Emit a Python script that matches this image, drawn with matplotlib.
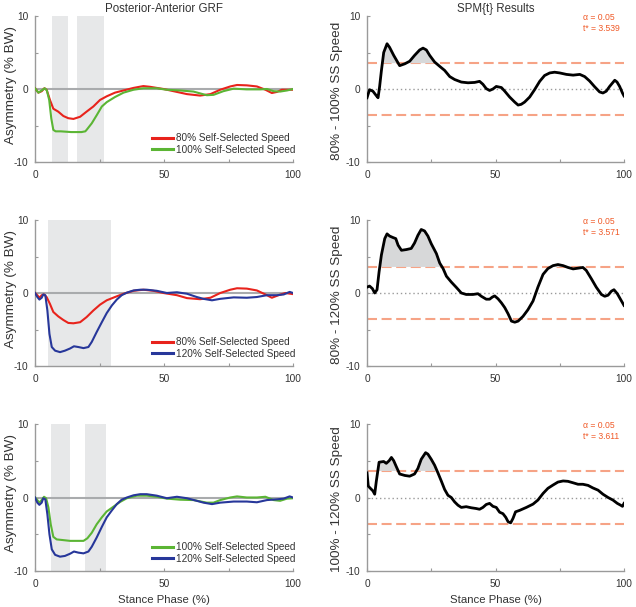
import numpy as np
import matplotlib
matplotlib.use("Agg")
import matplotlib.pyplot as plt

plt.rcParams['font.family'] = ['Liberation Sans', 'DejaVu Sans']
plt.rcParams['axes.unicode_minus'] = False

# ---------------- data ----------------
# Panel 1: 80% vs 100%
p1_x80 = [0, 1.3, 2.6, 3.6, 4.5, 5.8, 7.1, 9, 11, 12.9, 14.9, 17.5, 20, 22.6, 25.2, 27.8, 31, 34.3, 38.2, 42, 44.6,
          49.8, 53.7, 58.9, 64, 68, 71.8, 75.7, 78.3, 82.1, 86, 89.3, 91.8, 93.8, 95.7, 100]
p1_y80 = [0.1, -0.5, -0.3, 0.1, -0.1, -1.5, -2.7, -3.1, -3.7, -4.0, -4.1, -3.8, -3.1, -2.4, -1.5, -1.0, -0.5, -0.2, 0.15, 0.4, 0.3,
          0.0, -0.3, -0.7, -0.9, -0.7, -0.1, 0.35, 0.55, 0.5, 0.35, -0.1, -0.55, -0.4, -0.1, -0.1]
p1_x100 = [0, 1.3, 2.6, 3.8, 4.6, 5.5, 6.3, 7.1, 8, 10, 14, 18, 19.5, 20, 22, 23.9, 25.9, 27.8, 31, 34.3, 38.2, 42, 47.2,
           51, 56.3, 61.4, 66.6, 69.2, 73, 77, 82, 87.3, 89.9, 92.5, 95, 97.7, 100]
p1_y100 = [0.1, -0.5, -0.2, 0.1, -0.2, -1.5, -4.0, -5.6, -5.8, -5.8, -5.9, -5.9, -5.8, -5.6, -4.7, -3.6, -2.4, -1.8, -1.1, -0.5, -0.1, 0.1, 0.1,
           -0.1, -0.2, -0.35, -0.85, -0.8, -0.3, 0.05, -0.05, -0.05, 0.0, -0.3, -0.35, -0.2, 0.0]
p1_spans = [(6.7, 12.9), (16.2, 26.9)]

# Panel 2: SPM 80% - 100%
p2_x = [0, 1, 2.3, 3.6, 4.3, 4.9, 5.6, 6.5, 7.8, 8.8, 10.4, 12.7, 14.7, 16.6, 18.5, 20.5, 21.8, 23.1, 24.4, 26.3, 28.3,
        30.2, 32.2, 34.1, 36.7, 39.3, 41.9, 43.8, 45.1, 46.4, 47.7, 49, 50.3, 52.3, 53.6, 55.5, 57.5, 58.8, 60, 61.3,
        63.3, 65.2, 67.2, 69.1, 71.1, 73, 75, 77.6, 80.2, 82.8, 84.7, 86.6, 88.6, 90.5, 91.8, 93.1, 94.4, 96.4, 97.3,
        98.3, 99.4, 100]
p2_y = [-1.2, -0.1, -0.3, -0.9, -1.2, 0.3, 2.5, 5.0, 6.2, 5.7, 4.6, 3.2, 3.45, 3.8, 4.6, 5.35, 5.6, 5.35, 4.6, 3.7, 3.1,
        2.55, 1.7, 1.3, 0.95, 0.85, 0.9, 1.05, 0.65, 0.05, -0.2, 0.0, 0.35, 0.2, -0.3, -1.1, -1.8, -2.2, -2.1, -1.8,
        -1.1, -0.1, 1.05, 1.85, 2.2, 2.3, 2.2, 2.0, 1.9, 2.0, 1.7, 1.1, 0.3, -0.4, -0.55, -0.3, 0.35, 1.2, 0.95,
        0.35, -0.55, -0.95]
p2_tstar = 3.539

# Panel 3: 80% vs 120%
p3_x80 = [0, 0.9, 1.7, 2.6, 3.5, 4.5, 5.8, 7.1, 9, 11, 12.9, 14.9, 17.5, 20, 22.6, 25.2, 27.8, 31, 34.3, 38.2, 42, 45.9,
          49.8, 55, 58.9, 64, 68, 71.8, 75.7, 78.3, 82.1, 86, 89.3, 91.8, 94.4, 97, 100]
p3_y80 = [0.0, -0.3, -0.65, -0.3, -0.2, -0.55, -1.5, -2.6, -3.2, -3.7, -4.1, -4.15, -4.0, -3.3, -2.4, -1.6, -1.0, -0.55, -0.1, 0.3, 0.45, 0.3,
          0.0, -0.3, -0.7, -0.85, -0.65, 0.0, 0.45, 0.65, 0.6, 0.35, -0.2, -0.65, -0.3, 0.0, -0.15]
p3_x120 = [0, 0.9, 1.7, 2.6, 3.2, 4, 4.8, 5.6, 6.5, 7.8, 9.7, 11.6, 13.6, 15.1, 16.8, 18.8, 20.7, 22, 23.9, 25.9, 27.8,
           29.8, 31.7, 33.6, 35.6, 38.2, 40.8, 43.3, 47.2, 51.1, 55, 58.9, 62.7, 65.3, 68.6, 71.8, 77, 82.1, 86, 89.9,
           93.8, 96.4, 98.7, 100]
p3_y120 = [0.0, -0.55, -0.9, -0.65, -0.2, -0.3, -2.4, -5.6, -7.4, -7.9, -8.1, -7.9, -7.6, -7.3, -7.4, -7.55, -7.4, -6.7, -5.35, -4.0, -2.75,
           -1.7, -0.9, -0.3, 0.05, 0.35, 0.45, 0.45, 0.3, 0.0, 0.1, -0.1, -0.55, -0.8, -1.0, -0.8, -0.6, -0.65, -0.55, -0.3,
           -0.3, -0.2, 0.15, 0.0]
p3_spans = [(5.2, 29.5)]

# Panel 4: SPM 80% - 120%
p4_x = [0, 1, 2.1, 3, 3.9, 4.7, 5.6, 6.9, 7.8, 8.8, 10.1, 11.2, 12.1, 13.4, 15.3, 17.2, 18.5, 19.8, 21.1, 22.4, 23.7,
        25, 27, 28.3, 29.6, 30.9, 32.8, 34.8, 36.7, 38.6, 41.2, 43.2, 44.5, 46.4, 47.7, 48.8, 49.7, 51, 52.3, 53.6,
        54.9, 56.2, 57.5, 58.8, 60.7, 62.6, 64.6, 66.5, 68.5, 70.4, 72.4, 74.3, 76.3, 78.2, 80.2, 82.1, 84, 85.3,
        87.3, 89.2, 91.2, 92.5, 93.8, 95.1, 96.1, 97.4, 98.7, 100]
p4_y = [0.8, 0.95, 0.6, 0.0, 0.45, 2.9, 5.2, 7.45, 8.1, 7.8, 7.6, 7.45, 6.55, 5.85, 5.95, 6.1, 6.85, 7.9, 8.7, 8.5, 7.8,
        6.75, 5.4, 4.1, 3.35, 2.3, 1.5, 0.75, 0.0, -0.2, -0.2, -0.1, -0.45, -0.85, -0.85, -0.55, -0.4, -0.8, -1.35, -2.0,
        -2.85, -3.85, -4.0, -3.85, -3.2, -2.3, -1.1, 0.8, 2.55, 3.35, 3.75, 3.9, 3.75, 3.5, 3.3, 3.4, 3.5, 3.1,
        1.95, 0.8, -0.2, -0.45, -0.3, 0.25, 0.45, -0.1, -0.9, -1.7]
p4_tstar = 3.571

# Panel 5: 100% vs 120%
p5_x100 = [0, 0.9, 1.7, 2.6, 3.5, 4.3, 5.2, 6.1, 7.1, 8.4, 11, 13.6, 16.2, 18.8, 20.3, 22, 23.9, 25.9, 27.8, 30.4, 33,
           35.6, 39.5, 43.3, 47.2, 51.1, 56.3, 61.4, 66.6, 69.2, 71.8, 75.7, 78.3, 82.1, 86, 89.3, 92.5, 95, 97.7, 100]
p5_y100 = [0.0, -0.35, -0.7, -0.35, 0.1, -0.1, -1.35, -3.65, -5.35, -5.7, -5.8, -5.9, -5.9, -5.9, -5.55, -4.8, -3.65, -2.7, -1.9, -1.25, -0.6,
           -0.1, 0.25, 0.25, 0.1, -0.15, -0.3, -0.35, -0.7, -0.7, -0.35, 0.0, 0.15, 0.0, 0.0, 0.1, -0.35, -0.45, -0.15, -0.1]
p5_x120 = [0, 0.9, 1.7, 2.6, 3.2, 4, 4.8, 5.6, 6.5, 7.8, 9.7, 11.6, 13.6, 15.1, 16.8, 18.8, 20.7, 22, 23.9, 25.9, 27.8,
           29.8, 31.7, 33.6, 35.6, 38.2, 40.8, 43.3, 47.2, 51.1, 55, 58.9, 62.7, 65.3, 68.6, 71.8, 77, 82.1, 86, 89.9,
           93.8, 96.4, 98.7, 100]
p5_y120 = [0.0, -0.7, -1.0, -0.7, -0.1, -0.25, -2.3, -5.0, -7.05, -7.8, -8.05, -7.95, -7.65, -7.35, -7.5, -7.6, -7.35, -6.7, -5.45, -4.0, -2.7,
           -1.75, -0.9, -0.3, 0.0, 0.3, 0.45, 0.45, 0.25, -0.1, 0.1, -0.1, -0.45, -0.7, -0.9, -0.7, -0.55, -0.55, -0.65, -0.35,
           -0.25, -0.15, 0.15, 0.0]
p5_spans = [(6.2, 13.7), (19.5, 27.6)]

# Panel 6: SPM 100% - 120%
p6_x = [0, 0.5, 1.3, 2.3, 3, 3.6, 4.7, 5.6, 6.5, 7.5, 8.6, 9.5, 10.4, 11.4, 12.7, 14.7, 16.6, 18.5, 19.8, 21.1, 22.8,
        23.7, 25, 26.3, 27.6, 28.9, 30.2, 31.5, 32.8, 34.1, 35.4, 36.7, 38.6, 40.6, 42.5, 43.8, 45.1, 46.4, 47.7, 49,
        50.3, 51.6, 52.9, 54, 54.9, 55.9, 56.8, 57.8, 59.4, 62, 64.6, 66.5, 68.5, 70.4, 72.4, 74.3, 76.3, 78.2, 80.2,
        82.1, 84, 86, 87.9, 89.9, 91.8, 93.8, 95.7, 97.4, 98.7, 99.4, 100]
p6_y = [3.35, 1.55, 1.25, 0.9, 0.45, 2.15, 4.8, 4.85, 4.9, 4.65, 5.0, 5.45, 5.0, 4.2, 3.2, 3.0, 2.9, 3.2, 3.95, 5.2, 6.1,
        5.9, 5.2, 4.4, 3.35, 2.25, 1.1, 0.3, 0.0, -0.6, -1.05, -1.35, -1.25, -1.4, -1.5, -1.6, -1.35, -0.95, -0.8, -1.2,
        -1.35, -2.0, -2.2, -2.7, -3.3, -3.45, -2.85, -1.95, -1.75, -1.35, -0.9, -0.35, 0.55, 1.25, 1.7, 2.1, 2.25, 2.2, 2.0,
        1.8, 1.8, 1.65, 1.3, 1.0, 0.45, 0.0, -0.35, -0.8, -1.05, -1.2, -0.8]
p6_tstar = 3.611

labels_80 = "80% Self-Selected Speed"
labels_100 = "100% Self-Selected Speed"
labels_120 = "120% Self-Selected Speed"
spm_ylabels = ["80% - 100% SS Speed", "80% - 120% SS Speed", "100% - 120% SS Speed"]

# ---------------- style ----------------
RED = '#e8231c'
GREEN = '#5bb534'
BLUE = '#27379a'
SPAN = '#e7e8e9'
ZERO = '#a9abad'
SPINE = '#9a9a9a'
SALMON = '#f6a386'
ORANGE = '#f05a28'
TXT = '#333333'

fig = plt.figure(figsize=(6.36, 6.07), dpi=100)
W, H = 636.0, 607.0

def make_ax(x0, x1, ytop, ybot):
    return fig.add_axes([x0 / W, 1 - ybot / H, (x1 - x0) / W, (ybot - ytop) / H])

rows = [(16, 162), (220, 366), (424, 571)]
left_axes = [make_ax(35, 293, t, b) for t, b in rows]
right_axes = [make_ax(367, 624, t, b) for t, b in rows]

def style(ax, bottom_label=False):
    ax.set_xlim(0, 100)
    ax.set_ylim(-10, 10)
    for s in ['top', 'right']:
        ax.spines[s].set_visible(False)
    for s in ['left', 'bottom']:
        ax.spines[s].set_color(SPINE)
        ax.spines[s].set_linewidth(1.0)
    ax.set_xticks([0, 50, 100])
    ax.set_xticks([25, 75], minor=True)
    ax.set_yticks([-10, 0, 10])
    ax.set_yticks([-5, 5], minor=True)
    ax.tick_params(which='both', direction='in', color=SPINE, length=2.5, width=0.8,
                   labelsize=7.3, labelcolor=TXT)
    ax.tick_params(axis='y', pad=5)
    ax.tick_params(axis='x', pad=6)
    if bottom_label:
        ax.set_xlabel("Stance Phase (%)", fontsize=8.2, color=TXT, labelpad=4)

def left_panel(ax, spans, series, bottom_label=False):
    style(ax, bottom_label)
    for a, b in spans:
        ax.axvspan(a, b, color=SPAN, lw=0, zorder=0)
    ax.axhline(0, color=ZERO, lw=1.5, zorder=1)
    for x, y, c, lab in series:
        ax.plot(x, y, color=c, lw=1.5, label=lab, zorder=3)
    ax.set_ylabel("Asymmetry (% BW)", fontsize=9.7, color=TXT)
    ax.yaxis.set_label_coords(-0.068, 0.53)
    leg = ax.legend(loc='lower right', bbox_to_anchor=(1.01, 0.05), frameon=False,
                    fontsize=7.2, handlelength=2.1, handletextpad=0.35, labelspacing=0.15,
                    borderpad=0, borderaxespad=0)
    for t in leg.get_texts():
        t.set_color(TXT)
    for l in leg.get_lines():
        l.set_linewidth(2.2)

def right_panel(ax, x, y, tstar, ylabel, bottom_label=False):
    style(ax, bottom_label)
    x = np.asarray(x, float)
    y = np.asarray(y, float)
    ax.axhline(0, color='#9a9a9a', lw=1.0, ls=(0, (1, 2)), zorder=1)
    for v in (tstar, -tstar):
        ax.axhline(v, color=SALMON, lw=1.5, ls=(0, (4.8, 2.2)), zorder=1)
    ax.fill_between(x, y, tstar, where=y > tstar, interpolate=True, color='#d7d8d9', lw=0, zorder=2)
    ax.plot(x, y, color='black', lw=2.0, zorder=3, solid_joinstyle='round')
    ax.set_ylabel(ylabel, fontsize=9.7, color=TXT)
    ax.yaxis.set_label_coords(-0.093, 0.49)
    ax.text(0.84, 0.99, "\u03b1 = 0.05", transform=ax.transAxes, fontsize=6.2, color=ORANGE,
            ha='left', va='center')
    ax.text(0.84, 0.915, "t* = %.3f" % tstar, transform=ax.transAxes, fontsize=6.2, color=ORANGE,
            ha='left', va='center')

left_panel(left_axes[0], p1_spans, [(p1_x80, p1_y80, RED, labels_80), (p1_x100, p1_y100, GREEN, labels_100)])
left_panel(left_axes[1], p3_spans, [(p3_x80, p3_y80, RED, labels_80), (p3_x120, p3_y120, BLUE, labels_120)])
left_panel(left_axes[2], p5_spans, [(p5_x100, p5_y100, GREEN, labels_100), (p5_x120, p5_y120, BLUE, labels_120)],
           bottom_label=True)

right_panel(right_axes[0], p2_x, p2_y, p2_tstar, spm_ylabels[0])
right_panel(right_axes[1], p4_x, p4_y, p4_tstar, spm_ylabels[1])
right_panel(right_axes[2], p6_x, p6_y, p6_tstar, spm_ylabels[2], bottom_label=True)

left_axes[0].set_title("Posterior-Anterior GRF", fontsize=8.3, color=TXT, pad=3)
right_axes[0].set_title("SPM{t} Results", fontsize=8.3, color=TXT, pad=3)

fig.savefig("out.png", dpi=100, facecolor='white')
